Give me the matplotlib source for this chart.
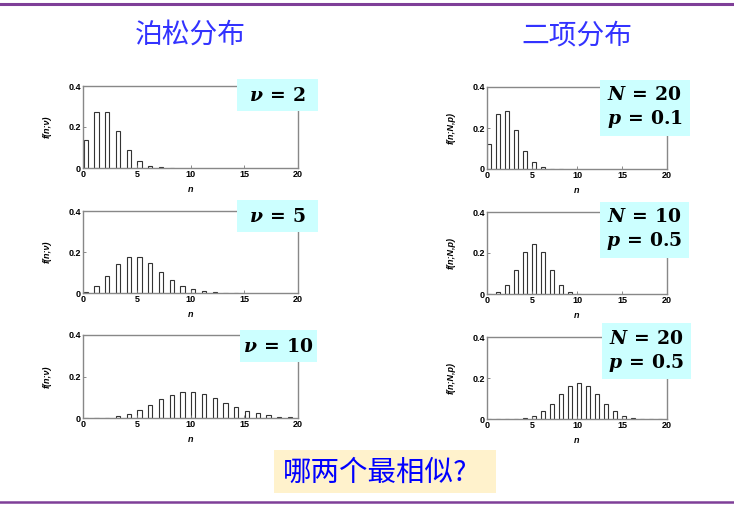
import matplotlib
matplotlib.use('Agg')
import matplotlib.pyplot as plt
from matplotlib.patches import Rectangle

# Values (probabilities for n = 0, 1, 2, ...)
poisson_nu2 = [0.135, 0.271, 0.271, 0.180, 0.090, 0.036, 0.012, 0.0034, 0.0009]
poisson_nu5 = [0.0067, 0.034, 0.084, 0.140, 0.175, 0.175, 0.146, 0.104, 0.065,
               0.036, 0.018, 0.008, 0.0034, 0.0013, 0.0005]
poisson_nu10 = [0.00005, 0.0005, 0.0023, 0.0076, 0.019, 0.038, 0.063, 0.090, 0.113,
                0.125, 0.125, 0.114, 0.095, 0.073, 0.052, 0.035, 0.022, 0.013,
                0.0071, 0.0037]
binom_20_01 = [0.122, 0.270, 0.285, 0.190, 0.090, 0.032, 0.009, 0.002, 0.0004]
binom_10_05 = [0.001, 0.0098, 0.044, 0.117, 0.205, 0.246, 0.205, 0.117, 0.044,
               0.0098, 0.001]
binom_20_05 = [0.000001, 0.00002, 0.0002, 0.0011, 0.0046, 0.0148, 0.037, 0.074,
               0.120, 0.160, 0.176, 0.160, 0.120, 0.074, 0.037, 0.0148, 0.0046,
               0.0011, 0.0002, 0.00002, 0.000001]

poisson_sets = [poisson_nu2, poisson_nu5, poisson_nu10]
binom_sets = [binom_20_01, binom_10_05, binom_20_05]
poisson_labels = [r'$\nu\,=\,2$', r'$\nu\,=\,5$', r'$\nu\,=\,10$']
binom_labels = ['$N\\,=\\,20$\n$p\\,=\\,0.1$', '$N\\,=\\,10$\n$p\\,=\\,0.5$',
                '$N\\,=\\,20$\n$p\\,=\\,0.5$']

plt.rcParams['mathtext.fontset'] = 'custom'
plt.rcParams['mathtext.rm'] = 'DejaVu Serif:bold'
plt.rcParams['mathtext.it'] = 'DejaVu Serif:italic:bold'
plt.rcParams['mathtext.bf'] = 'DejaVu Serif:bold'

W, H = 734, 511
fig = plt.figure(figsize=(W / 100, H / 100), dpi=100)


def px_axes(l, t, r, b):
    return fig.add_axes([l / W, 1 - b / H, (r - l) / W, (b - t) / H])


def px_box(l, t, r, b, color):
    fig.patches.append(Rectangle((l / W, 1 - b / H), (r - l) / W, (b - t) / H,
                                 transform=fig.transFigure, facecolor=color,
                                 edgecolor='none', zorder=5))


def draw_hist(ax, vals, ylab):
    n = list(range(len(vals)))
    ax.bar([k + 0.05 for k in n], vals, width=0.4, align='edge',
           facecolor='white', edgecolor='#333333', linewidth=0.8)
    ax.set_xlim(0, 20)
    ax.set_ylim(0, 0.4)
    ax.set_xticks([0, 5, 10, 15, 20])
    ax.set_yticks([0, 0.2, 0.4])
    ax.set_yticklabels(['0', '0.2', '0.4'])
    ax.tick_params(direction='in', length=2.5, width=0.6, color='#777777',
                   labelsize=6.5, pad=1.5)
    for lab in ax.get_xticklabels() + ax.get_yticklabels():
        lab.set_fontweight('bold')
        lab.set_family('Liberation Sans')
    for s in ax.spines.values():
        s.set_color('#888888')
        s.set_linewidth(1.0)
    ax.set_xlabel('n', fontsize=6.5, style='italic', weight='bold',
                  family='Liberation Sans', labelpad=4)
    ax.set_ylabel(ylab, fontsize=6.5, style='italic', weight='bold',
                  family='Liberation Sans', labelpad=12)


poisson_rows = [(86, 168), (211, 293), (335, 418)]
binom_rows = [(87, 169), (212, 294), (337, 419)]

for vals, (t, b) in zip(poisson_sets, poisson_rows):
    ax = px_axes(83, t, 298, b)
    draw_hist(ax, vals, 'f(n;ν)')
for vals, (t, b) in zip(binom_sets, binom_rows):
    ax = px_axes(487, t, 667, b)
    draw_hist(ax, vals, 'f(n;N,p)')

# parameter boxes
poisson_boxes = [(237, 79, 318, 111), (237, 200, 318, 232), (240, 330, 317, 362)]
binom_boxes = [(600, 80, 690, 136), (600, 202, 689, 258), (602, 323, 691, 379)]
for lab, (l, t, r, b) in zip(poisson_labels, poisson_boxes):
    px_box(l, t, r, b, '#ccffff')
    fig.text((l + r) / 2 / W, 1 - (t + b) / 2 / H, lab, fontsize=13.5,
             ha='center', va='center', zorder=6)
for lab, (l, t, r, b) in zip(binom_labels, binom_boxes):
    px_box(l, t, r, b, '#ccffff')
    fig.text((l + r) / 2 / W, 1 - (t + b) / 2 / H, lab, fontsize=13.5,
             ha='center', va='center', linespacing=1.25, zorder=6)

# titles
cjk = ['Noto Sans CJK SC', 'DejaVu Sans']
fig.text(190 / W, 1 - 35 / H, '泊松分布', fontsize=20, color='#3333ff',
         ha='center', va='center', family=cjk)
fig.text(577 / W, 1 - 35 / H, '二项分布', fontsize=20, color='#3333ff',
         ha='center', va='center', family=cjk)

# question box
px_box(274, 450, 496, 493, '#fff2cc')
fig.text(283 / W, 1 - 473 / H, '哪两个最相似?', fontsize=20.5, color='#0000ff',
         ha='left', va='center', family=cjk, zorder=6)

# purple rules
fig.add_artist(plt.Line2D([0, 1], [1 - 4 / H, 1 - 4 / H], color='#7f3f98',
                          linewidth=2.2, transform=fig.transFigure))
fig.add_artist(plt.Line2D([0, 1], [1 - 502 / H, 1 - 502 / H], color='#7f3f98',
                          linewidth=1.8, transform=fig.transFigure))

fig.savefig('out.png', dpi=100)
